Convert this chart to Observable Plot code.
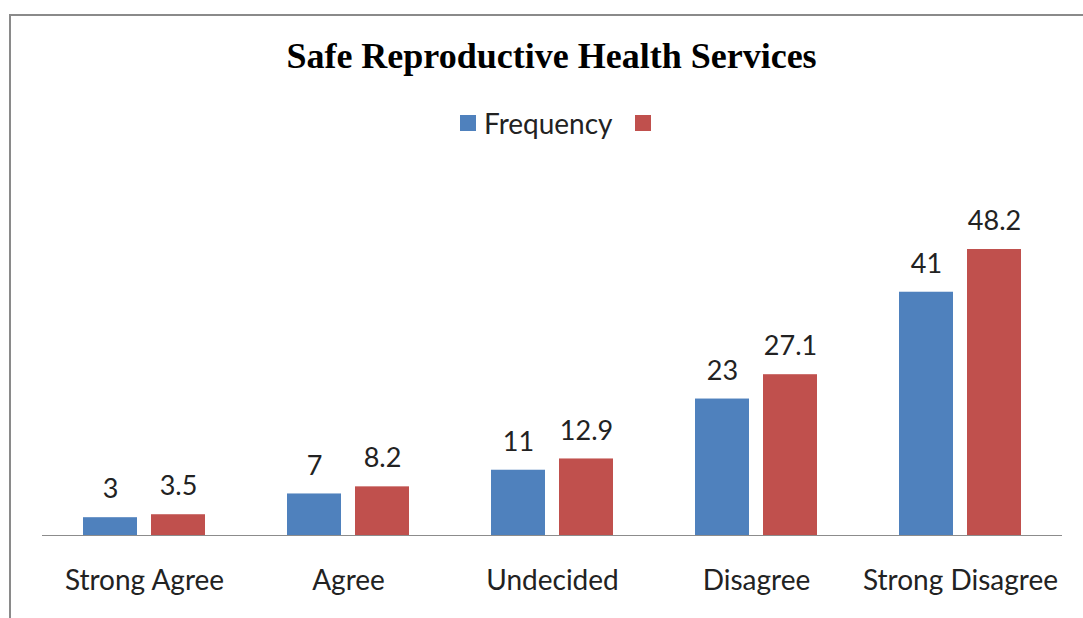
<!DOCTYPE html>
<html>
<head>
<meta charset="utf-8">
<script src="https://cdn.jsdelivr.net/npm/d3@7"></script>
<script src="https://cdn.jsdelivr.net/npm/@observablehq/plot@0.6"></script>
<style>
  html, body { margin: 0; padding: 0; background: #fff; }
  #wrap { position: relative; width: 1083px; height: 618px; overflow: hidden; background: #fff; }
  #frame { position: absolute; left: 9px; top: 14px; width: 1200px; height: 700px;
           border-left: 2px solid #8a8a8a; border-top: 2px solid #8a8a8a; box-sizing: border-box; }
  #title { position: absolute; left: 0; width: 1103px; top: 38px; text-align: center;
           font-family: "Liberation Serif", "Times New Roman", serif; font-weight: bold;
           font-size: 36px; color: #000; line-height: 1; }
  #legend { position: absolute; left: 460px; top: 106px; height: 34px; display: flex; align-items: center;
            font-family: Lato, "Open Sans", sans-serif; font-size: 28px; color: #222; }
  #legend .sw { display: inline-block; width: 16px; height: 16px; margin-right: 8px; }
  #legend .item { display: flex; align-items: center; margin-right: 22px; }
  #chart { position: absolute; left: 0; top: 0; }
</style>
</head>
<body>
<div id="wrap">
  <div id="frame"></div>
  <div id="chart"></div>
  <div id="title">Safe Reproductive Health Services</div>
  <div id="legend"></div>
</div>
<script>
// Survey responses for "Safe Reproductive Health Services"
const categories = ["Strong Agree", "Agree", "Undecided", "Disagree", "Strong Disagree"];
const frequency = [3, 7, 11, 23, 41];
const percent = [3.5, 8.2, 12.9, 27.1, 48.2];
const seriesKeys = ["Frequency", "Percent"];
const legendLabels = ["Frequency", ""];
const seriesColors = ["#4F81BD", "#C0504D"];

const rows = categories.flatMap((c, i) => [
  {category: c, series: seriesKeys[0], value: frequency[i]},
  {category: c, series: seriesKeys[1], value: percent[i]}
]);

const font = "Lato, 'Open Sans', sans-serif";

const chart = Plot.plot({
  width: 1083,
  height: 618,
  marginLeft: 42,
  marginRight: 21,
  marginTop: 179,
  marginBottom: 83,
  style: {fontFamily: font, background: "transparent", color: "#222"},
  fx: {domain: categories, padding: 0, label: null},
  x: {domain: seriesKeys, paddingInner: 0.206, paddingOuter: 0.603, axis: null},
  y: {domain: [0, 60], axis: null},
  color: {domain: seriesKeys, range: seriesColors},
  marks: [
    Plot.barY(rows, {fx: "category", x: "series", y: "value", fill: "series"}),
    Plot.text(rows, {fx: "category", x: "series", y: "value", text: d => String(d.value),
      dy: -28, fontSize: 27, fill: "#222", lineAnchor: "middle"}),
    Plot.ruleY([0], {stroke: "#8c8c8c", strokeWidth: 1.2}),
    Plot.axisFx({anchor: "bottom", tickSize: 0, tickPadding: 35, fontSize: 28, fill: "#222", label: null})
  ]
});
document.getElementById("chart").appendChild(chart);

// Legend built from the same series colours
const legend = document.getElementById("legend");
legendLabels.forEach((lab, i) => {
  const item = document.createElement("span");
  item.className = "item";
  const sw = document.createElement("span");
  sw.className = "sw";
  sw.style.background = seriesColors[i];
  item.appendChild(sw);
  if (lab) item.appendChild(document.createTextNode(lab));
  legend.appendChild(item);
});
</script>
</body>
</html>
